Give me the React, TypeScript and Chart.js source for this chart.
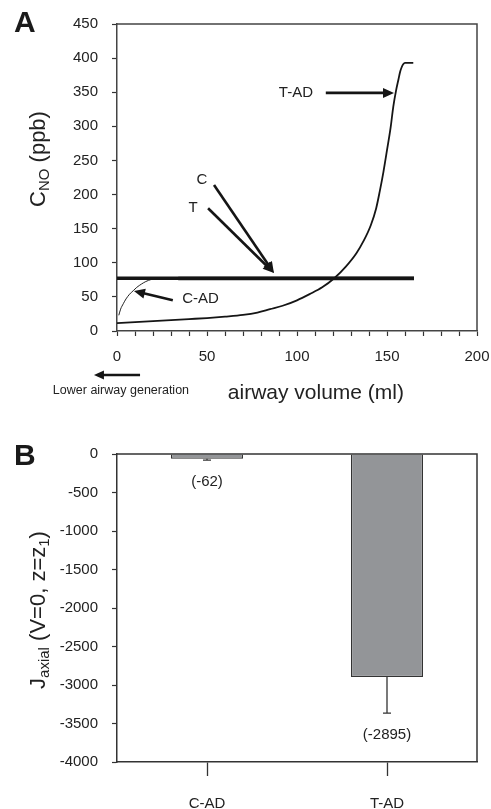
import React, { useEffect, useRef } from 'react';
import { Chart, registerables } from 'chart.js';
Chart.register(...registerables);

const FONT = "'Liberation Sans', Arial, Helvetica, sans-serif";

// ---------- Panel A data ----------
const tadVolume = [0, 10, 20, 30, 40, 50, 60, 70, 78, 85, 92, 100, 107, 114, 121, 127, 133, 137, 141, 144, 146, 148, 150, 152, 153.5, 155, 156.3, 157.3, 158.2, 159, 160, 164.6];
const tadCno = [11.5, 13, 14.5, 16, 17.5, 19, 21, 23.5, 27, 32, 37, 45, 54, 64, 78, 94, 114, 132, 155, 180, 205, 233, 265, 298, 329, 352, 368, 380, 387, 391, 393, 393];
const cadVolume = [1, 2, 3.5, 5, 7, 9, 11, 13.7, 16, 19, 23];
const cadCno = [23, 32, 40, 47, 54, 59, 64, 69, 72.5, 75.5, 77];
const cVolume = [0, 165];
const cCno = [77.5, 77.5];
const tVolume = [34, 165];
const tCno = [77, 77];
const volumeTickStep = 10;
const volumeLabelStep = 50;

// ---------- Panel B data ----------
const fluxCategories = ['C-AD', 'T-AD'];
const fluxValues = [-62, -2895];
const fluxErrors = [18, 470];
const fluxLabels = ['(-62)', '(-2895)'];

type Part = { text: string; sub?: boolean };

function drawVerticalRich(ctx: CanvasRenderingContext2D, parts: Part[], cx: number, cy: number, big: number, small: number) {
  ctx.save();
  ctx.translate(cx, cy);
  ctx.rotate(-Math.PI / 2);
  let total = 0;
  const widths = parts.map((p) => {
    ctx.font = `${p.sub ? small : big}px ${FONT}`;
    const w = ctx.measureText(p.text).width;
    total += w;
    return w;
  });
  let x = -total / 2;
  ctx.textBaseline = 'alphabetic';
  ctx.textAlign = 'left';
  ctx.fillStyle = '#222';
  parts.forEach((p, i) => {
    ctx.font = `${p.sub ? small : big}px ${FONT}`;
    ctx.fillText(p.text, x, p.sub ? 12 : 8);
    x += widths[i];
  });
  ctx.restore();
}

function drawArrow(ctx: CanvasRenderingContext2D, x1: number, y1: number, x2: number, y2: number, lw = 2.6, headLen = 11, headHalf = 5) {
  const ang = Math.atan2(y2 - y1, x2 - x1);
  const bx = x2 - headLen * Math.cos(ang);
  const by = y2 - headLen * Math.sin(ang);
  ctx.save();
  ctx.strokeStyle = '#151515';
  ctx.fillStyle = '#151515';
  ctx.lineWidth = lw;
  ctx.beginPath();
  ctx.moveTo(x1, y1);
  ctx.lineTo(bx + Math.cos(ang), by + Math.sin(ang));
  ctx.stroke();
  ctx.beginPath();
  ctx.moveTo(x2, y2);
  ctx.lineTo(bx + headHalf * Math.sin(ang), by - headHalf * Math.cos(ang));
  ctx.lineTo(bx - headHalf * Math.sin(ang), by + headHalf * Math.cos(ang));
  ctx.closePath();
  ctx.fill();
  ctx.restore();
}

const annTexts = [
  { text: 'C', x: 47.2, y: 221 },
  { text: 'T', x: 42.2, y: 180 },
  { text: 'T-AD', x: 99.4, y: 349 },
  { text: 'C-AD', x: 46.4, y: 47 },
];
const annArrows = [
  { x1: 53.9, y1: 214, x2: 87.2, y2: 85 },
  { x1: 50.6, y1: 180, x2: 87.2, y2: 85 },
  { x1: 116, y1: 349, x2: 153.9, y2: 349 },
  { x1: 31, y1: 45, x2: 9.4, y2: 58.6 },
];

const panelAPlugin = {
  id: 'panelA',
  afterDraw(chart: any) {
    const ctx: CanvasRenderingContext2D = chart.ctx;
    const { left, right, top, bottom } = chart.chartArea;
    const xs = chart.scales.x;
    const ys = chart.scales.y;
    ctx.save();
    // frame
    ctx.strokeStyle = '#444';
    ctx.lineWidth = 1.5;
    ctx.beginPath();
    ctx.moveTo(left, top);
    ctx.lineTo(right, top);
    ctx.lineTo(right, bottom);
    ctx.stroke();
    // panel letter
    ctx.fillStyle = '#1a1a1a';
    ctx.font = `bold 30px ${FONT}`;
    ctx.textAlign = 'left';
    ctx.textBaseline = 'alphabetic';
    ctx.fillText('A', 14, 32);
    // annotations
    ctx.font = `15px ${FONT}`;
    ctx.textAlign = 'center';
    ctx.textBaseline = 'middle';
    ctx.fillStyle = '#222';
    annTexts.forEach((a) => ctx.fillText(a.text, xs.getPixelForValue(a.x), ys.getPixelForValue(a.y)));
    annArrows.forEach((a) =>
      drawArrow(ctx, xs.getPixelForValue(a.x1), ys.getPixelForValue(a.y1), xs.getPixelForValue(a.x2), ys.getPixelForValue(a.y2))
    );
    // x title
    ctx.font = `21px ${FONT}`;
    ctx.fillStyle = '#222';
    ctx.textAlign = 'center';
    ctx.textBaseline = 'middle';
    ctx.fillText('airway volume (ml)', xs.getPixelForValue(110.5), bottom + 62);
    // lower airway note
    ctx.font = `12.5px ${FONT}`;
    ctx.fillText('Lower airway generation', xs.getPixelForValue(2.2), bottom + 60);
    drawArrow(ctx, xs.getPixelForValue(12.8), bottom + 44, xs.getPixelForValue(-12.8), bottom + 44, 2.6, 10, 4.5);
    ctx.restore();
    // y title
    drawVerticalRich(ctx, [{ text: 'C' }, { text: 'NO', sub: true }, { text: ' (ppb)' }], 37, 159, 22, 15);
  },
};

const panelBPlugin = {
  id: 'panelB',
  afterDraw(chart: any) {
    const ctx: CanvasRenderingContext2D = chart.ctx;
    const { left, right, top, bottom } = chart.chartArea;
    const xs = chart.scales.x;
    const ys = chart.scales.y;
    ctx.save();
    ctx.strokeStyle = '#333';
    ctx.lineWidth = 1.5;
    ctx.beginPath();
    ctx.moveTo(left, top);
    ctx.lineTo(right, top);
    ctx.lineTo(right, bottom);
    ctx.stroke();
    // error bars and labels
    ctx.lineWidth = 1.3;
    ctx.strokeStyle = '#333';
    fluxValues.forEach((v, i) => {
      const px = xs.getPixelForValue(i);
      const y0 = ys.getPixelForValue(v);
      const y1 = ys.getPixelForValue(v - fluxErrors[i]);
      ctx.beginPath();
      ctx.moveTo(px, y0);
      ctx.lineTo(px, y1);
      ctx.moveTo(px - 4, y1);
      ctx.lineTo(px + 4, y1);
      ctx.stroke();
      ctx.font = `15px ${FONT}`;
      ctx.fillStyle = '#222';
      ctx.textAlign = 'center';
      ctx.textBaseline = 'middle';
      ctx.fillText(fluxLabels[i], px, y1 + 22);
    });
    ctx.fillStyle = '#1a1a1a';
    ctx.font = `bold 30px ${FONT}`;
    ctx.textAlign = 'left';
    ctx.textBaseline = 'alphabetic';
    ctx.fillText('B', 14, 45);
    ctx.restore();
    drawVerticalRich(
      ctx,
      [{ text: 'J' }, { text: 'axial', sub: true }, { text: ' (V=0, z=z' }, { text: '1', sub: true }, { text: ')' }],
      37,
      190,
      22,
      15
    );
  },
};

export default function App() {
  const refA = useRef<HTMLCanvasElement>(null);
  const refB = useRef<HTMLCanvasElement>(null);

  useEffect(() => {
    const tickFont = { family: FONT, size: 15 };
    const chartA = new Chart(refA.current!, {
      type: 'scatter',
      data: {
        datasets: [
          {
            label: 'C',
            data: cVolume.map((x, i) => ({ x, y: cCno[i] })),
            showLine: true,
            borderColor: '#151515',
            borderWidth: 3.5,
            pointRadius: 0,
          },
          {
            label: 'T',
            data: tVolume.map((x, i) => ({ x, y: tCno[i] })),
            showLine: true,
            borderColor: '#151515',
            borderWidth: 3.5,
            pointRadius: 0,
          },
          {
            label: 'C-AD',
            data: cadVolume.map((x, i) => ({ x, y: cadCno[i] })),
            showLine: true,
            borderColor: '#222',
            borderWidth: 1,
            pointRadius: 0,
            cubicInterpolationMode: 'monotone',
          },
          {
            label: 'T-AD',
            data: tadVolume.map((x, i) => ({ x, y: tadCno[i] })),
            showLine: true,
            borderColor: '#151515',
            borderWidth: 1.8,
            pointRadius: 0,
            cubicInterpolationMode: 'monotone',
          },
        ],
      } as any,
      options: {
        responsive: false,
        animation: false,
        devicePixelRatio: 1,
        layout: { padding: { top: 24, right: 14, left: 0, bottom: 0 } },
        plugins: { legend: { display: false }, tooltip: { enabled: false } },
        scales: {
          x: {
            type: 'linear',
            min: 0,
            max: 200,
            ticks: {
              stepSize: volumeTickStep,
              autoSkip: false,
              maxRotation: 0,
              font: tickFont,
              color: '#222',
              padding: 12,
              callback: (v: any) => (Number(v) % volumeLabelStep === 0 ? String(v) : ''),
            },
            grid: { drawOnChartArea: false, tickLength: 5, tickColor: '#333', tickWidth: 1.2 },
            border: { color: '#444', width: 1.5 },
            afterFit: (s: any) => {
              s.height = 89;
              s.paddingLeft = 0;
              s.paddingRight = 0;
            },
          },
          y: {
            min: 0,
            max: 450,
            ticks: { stepSize: 50, font: tickFont, color: '#222', padding: 14 },
            grid: { drawOnChartArea: false, tickLength: 5, tickColor: '#333', tickWidth: 1.2 },
            border: { color: '#444', width: 1.5 },
            afterFit: (s: any) => {
              s.width = 117;
            },
          },
        },
      } as any,
      plugins: [panelAPlugin],
    });

    const chartB = new Chart(refB.current!, {
      type: 'bar',
      data: {
        labels: fluxCategories,
        datasets: [
          {
            data: fluxValues,
            backgroundColor: '#939598',
            borderColor: '#333',
            borderWidth: 1.2,
            barPercentage: 0.8,
            categoryPercentage: 0.5,
          },
        ],
      },
      options: {
        responsive: false,
        animation: false,
        devicePixelRatio: 1,
        layout: { padding: { top: 34, right: 14, left: 0, bottom: 0 } },
        plugins: { legend: { display: false }, tooltip: { enabled: false } },
        scales: {
          x: {
            ticks: { font: tickFont, color: '#222', padding: 19, maxRotation: 0 },
            grid: { drawOnChartArea: false, offset: false, tickLength: 14, tickColor: '#333', tickWidth: 1.3 },
            border: { color: '#333', width: 1.5 },
            afterFit: (s: any) => {
              s.height = 47;
            },
          },
          y: {
            min: -4000,
            max: 0,
            ticks: { stepSize: 500, font: tickFont, color: '#222', padding: 14, callback: (v: any) => String(v) },
            grid: { drawOnChartArea: false, tickLength: 5, tickColor: '#333', tickWidth: 1.2 },
            border: { color: '#333', width: 1.5 },
            afterFit: (s: any) => {
              s.width = 117;
            },
          },
        },
      } as any,
      plugins: [panelBPlugin],
    });

    return () => {
      chartA.destroy();
      chartB.destroy();
    };
  }, []);

  return (
    <div style={{ position: 'absolute', left: 0, top: 0, width: 491, height: 809, background: '#fff' }}>
      <canvas ref={refA} width={491} height={420} style={{ position: 'absolute', left: 0, top: 0 }} />
      <canvas ref={refB} width={491} height={389} style={{ position: 'absolute', left: 0, top: 420 }} />
    </div>
  );
}
